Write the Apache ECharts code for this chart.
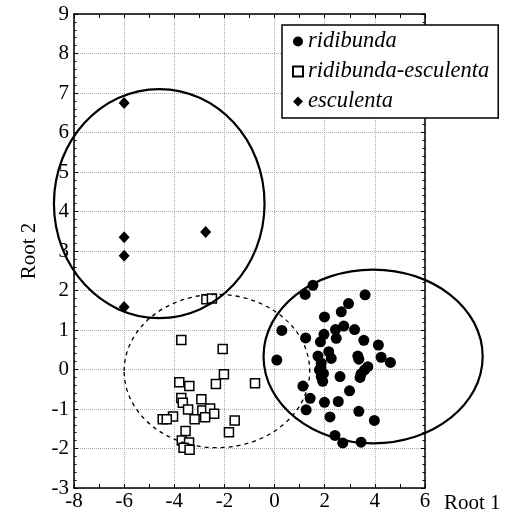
<!DOCTYPE html>
<html>
<head>
<meta charset="utf-8">
<script src="https://cdn.jsdelivr.net/npm/echarts@6/dist/echarts.min.js"></script>
<style>
  html, body { margin: 0; padding: 0; background: #fff; }
  #chart { width: 507px; height: 514px; }
</style>
</head>
<body>
<div id="chart"></div>
<script>
// Root 1 / Root 2 scores
const ridibunda = [
  [1.53, 2.13], [1.22, 1.90], [3.61, 1.89], [2.95, 1.67], [2.66, 1.46],
  [1.99, 1.33], [0.29, 0.99], [2.43, 1.01], [2.76, 1.10], [3.19, 1.01],
  [1.24, 0.80], [1.97, 0.89], [2.46, 0.79], [1.83, 0.70], [3.56, 0.74],
  [4.14, 0.62], [2.16, 0.45], [0.09, 0.24], [1.73, 0.34], [2.26, 0.28],
  [4.25, 0.31], [4.62, 0.18], [3.32, 0.34], [3.36, 0.26], [1.86, 0.16],
  [3.72, 0.07], [1.79, -0.01], [3.59, -0.01], [1.95, -0.10], [3.45, -0.11],
  [1.86, -0.18], [3.41, -0.20], [2.61, -0.18], [1.13, -0.42], [2.99, -0.54],
  [1.42, -0.73], [1.99, -0.83], [2.54, -0.81], [1.26, -1.02], [3.36, -1.06],
  [2.21, -1.20], [3.98, -1.29], [2.41, -1.67], [2.72, -1.86], [3.45, -1.84],
  [1.85, 0.05], [1.92, -0.30]
]

const ridibundaEsculenta = [
  [-2.72, 1.78], [-2.50, 1.80], [-3.72, 0.75], [-2.07, 0.52], [-2.02, -0.12],
  [-0.78, -0.35], [-3.80, -0.32], [-3.40, -0.42], [-2.34, -0.37], [-3.72, -0.72],
  [-3.66, -0.84], [-2.92, -0.75], [-3.45, -1.01], [-2.88, -1.04], [-2.57, -0.99],
  [-2.41, -1.12], [-2.77, -1.21], [-3.19, -1.26], [-4.05, -1.19], [-4.46, -1.26],
  [-4.30, -1.26], [-3.55, -1.56], [-1.59, -1.29], [-1.82, -1.59], [-3.70, -1.80],
  [-3.41, -1.85], [-3.63, -1.98], [-3.39, -2.03]
]

const esculenta = [
  [-6.0, 6.75], [-6.0, 3.35], [-6.0, 2.88], [-6.0, 1.58], [-2.75, 3.48]
]

// ellipses: centre x, centre y, half-width, half-height
const ridibundaEllipse = [3.93, 0.33, 4.37, 2.20]
const hybridEllipse = [-2.30, -0.04, 3.70, 1.94]
const esculentaEllipse = [-4.60, 4.20, 4.20, 2.90]

const xTicks = { min: -8, max: 6, step: 2 }
const yTicks = { min: -3, max: 9, step: 1 }

const seriesNames = ['ridibunda', 'ridibunda-esculenta', 'esculenta']

const chart = echarts.init(document.getElementById('chart'))

const serif = '"Liberation Serif", "DejaVu Serif", serif'

function ellipseSeries(values, dashed) {
  return {
    type: 'custom',
    coordinateSystem: 'cartesian2d',
    clip: false,
    silent: true,
    z: 3,
    data: [values],
    renderItem: function (params, api) {
      const c = api.coord([api.value(0), api.value(1)])
      const s = api.size([api.value(2), api.value(3)])
      return {
        type: 'ellipse',
        shape: { cx: c[0], cy: c[1], rx: s[0], ry: s[1] },
        style: {
          fill: null,
          stroke: '#000',
          lineWidth: dashed ? 1.3 : 2.2,
          lineDash: dashed ? [4, 4] : null
        }
      }
    }
  }
}

const frameAxis = {
  axisLine: { show: true, onZero: false, lineStyle: { color: '#000', width: 1.5 } },
  axisTick: { show: true, inside: true, length: 4, lineStyle: { color: '#000' } },
  axisLabel: { show: false },
  splitLine: { show: false }
}

const option = {
  animation: false,
  backgroundColor: '#fff',
  grid: { left: 74, right: 82, top: 14, bottom: 25, containLabel: false },
  legend: {
    data: [
      { name: seriesNames[0], icon: 'circle' },
      { name: seriesNames[1], icon: 'rect' },
      { name: seriesNames[2], icon: 'diamond' }
    ],
    orient: 'vertical',
    left: 282,
    top: 25,
    itemWidth: 10,
    itemHeight: 10,
    itemGap: 7,
    padding: [5, 9, 5, 10],
    backgroundColor: '#fff',
    borderColor: '#000',
    borderWidth: 1.5,
    borderRadius: 0,
    textStyle: {
      fontFamily: serif,
      fontStyle: 'italic',
      fontSize: 22.5,
      color: '#000'
    }
  },
  xAxis: [
    {
      type: 'value',
      min: xTicks.min,
      max: xTicks.max,
      interval: xTicks.step,
      name: 'Root 1',
      nameLocation: 'end',
      nameGap: 19,
      nameTextStyle: {
        fontFamily: serif, fontSize: 21, color: '#000',
        verticalAlign: 'top', padding: [5, 0, 0, 0]
      },
      axisLine: { show: true, onZero: false, lineStyle: { color: '#000', width: 1.5 } },
      axisTick: { show: true, inside: true, length: 4, lineStyle: { color: '#000' } },
      minorTick: { show: true, splitNumber: 2, length: 4, lineStyle: { color: '#000' } },
      axisLabel: { fontFamily: serif, fontSize: 21, color: '#000', margin: 3 },
      splitLine: { show: true, lineStyle: { color: '#aaa', type: 'dotted', width: 1 } }
    },
    Object.assign({
      type: 'value', position: 'top',
      min: xTicks.min, max: xTicks.max, interval: xTicks.step,
      minorTick: { show: true, splitNumber: 2, length: 4, lineStyle: { color: '#000' } }
    }, frameAxis)
  ],
  yAxis: [
    {
      type: 'value',
      min: yTicks.min,
      max: yTicks.max,
      interval: yTicks.step,
      name: 'Root 2',
      nameLocation: 'middle',
      nameRotate: 90,
      nameGap: 34,
      nameTextStyle: { fontFamily: serif, fontSize: 21, color: '#000' },
      axisLine: { show: true, onZero: false, lineStyle: { color: '#000', width: 1.5 } },
      axisTick: { show: true, inside: true, length: 4, lineStyle: { color: '#000' } },
      minorTick: { show: true, splitNumber: 5, length: 2.5, lineStyle: { color: '#000' } },
      axisLabel: { fontFamily: serif, fontSize: 21, color: '#000', margin: 5 },
      splitLine: { show: true, lineStyle: { color: '#aaa', type: 'dotted', width: 1 } }
    },
    Object.assign({
      type: 'value', position: 'right',
      min: yTicks.min, max: yTicks.max, interval: yTicks.step,
      minorTick: { show: true, splitNumber: 5, length: 2.5, lineStyle: { color: '#000' } }
    }, frameAxis)
  ],
  series: [
    ellipseSeries(hybridEllipse, true),
    ellipseSeries(ridibundaEllipse, false),
    ellipseSeries(esculentaEllipse, false),
    {
      name: seriesNames[1],
      type: 'scatter',
      data: ridibundaEsculenta,
      symbol: 'rect',
      symbolSize: 9,
      itemStyle: { color: '#fff', borderColor: '#000', borderWidth: 1.5, opacity: 1 },
      z: 2
    },
    {
      name: seriesNames[0],
      type: 'scatter',
      data: ridibunda,
      symbol: 'circle',
      symbolSize: 11,
      itemStyle: { color: '#000', opacity: 1 },
      z: 4
    },
    {
      name: seriesNames[2],
      type: 'scatter',
      data: esculenta,
      symbol: 'diamond',
      symbolSize: [11, 12],
      itemStyle: { color: '#000', opacity: 1 },
      z: 4
    }
  ]
}

chart.setOption(option)
</script>
</body>
</html>
